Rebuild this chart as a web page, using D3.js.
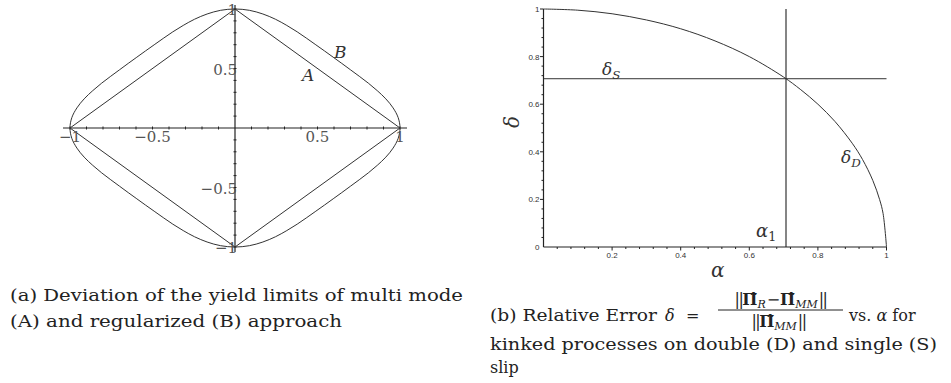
<!DOCTYPE html>
<html>
<head>
<meta charset="utf-8">
<script src="https://cdn.jsdelivr.net/npm/d3@7/dist/d3.min.js"></script>
<style>
  html, body { margin: 0; padding: 0; background: #fff; }
  svg { display: block; }
</style>
</head>
<body>
<svg id="fig" width="951" height="383"></svg>
<script>
// ---- (a) yield limits: multi mode (A) and regularized (B), first quadrant ----
const limitA = [[1, 0], [0, 1]];
const limitB = [
  [1.000, 0.000], [0.989, 0.087], [0.958, 0.169], [0.914, 0.245], [0.862, 0.314],
  [0.808, 0.377], [0.753, 0.435], [0.699, 0.490], [0.647, 0.543], [0.595, 0.595],
  [0.543, 0.647], [0.490, 0.699], [0.435, 0.753], [0.377, 0.808], [0.314, 0.862],
  [0.245, 0.914], [0.169, 0.958], [0.087, 0.989], [0.000, 1.000]
];
const ticksA = [-1, -0.5, 0.5, 1];
const tickLabelsA = ["\u22121", "\u22120.5", "0.5", "1"];

// ---- (b) relative error vs alpha ----
const alphaD = [0, 0.1, 0.2, 0.3, 0.4, 0.5, 0.6, 0.7, 0.75, 0.8, 0.85, 0.9, 0.93, 0.96, 0.98, 0.99, 1];
const deltaD = [1, 0.995, 0.98, 0.954, 0.917, 0.866, 0.8, 0.714, 0.661, 0.6, 0.527, 0.436, 0.368, 0.28, 0.199, 0.141, 0];
const deltaS = 0.707;
const alpha1 = 0.707;
const ticksB = [0.2, 0.4, 0.6, 0.8, 1];
const tickLabelsB = ["0.2", "0.4", "0.6", "0.8", "1"];

const SERIF = "'DejaVu Serif', 'Liberation Serif', serif";
const SANS = "'Liberation Sans', Arial, sans-serif";
const svg = d3.select("#fig");
const ink = "#333";

// ================= panel (a) =================
const xa = d3.scaleLinear().domain([-1, 1]).range([70, 400]);
const ya = d3.scaleLinear().domain([-1, 1]).range([247, 9]);
const ga = svg.append("g");

// full closed outline from first-quadrant points, mirrored about both axes
function closedOutline(q) {
  const q2 = q.slice().reverse().map(([x, y]) => [-x, y]);
  const q3 = q.map(([x, y]) => [-x, -y]);
  const q4 = q.slice().reverse().map(([x, y]) => [x, -y]);
  return q.concat(q2.slice(1), q3.slice(1), q4.slice(1, -1));
}

// axes with 0.1 minor ticks
const minorA = d3.range(-10, 11).filter(i => i !== 0).map(i => i / 10);
ga.append("line").attr("x1", 63).attr("x2", 407).attr("y1", ya(0)).attr("y2", ya(0))
  .attr("stroke", "#222").attr("stroke-width", 1.2);
ga.append("line").attr("x1", xa(0)).attr("x2", xa(0)).attr("y1", 5).attr("y2", 252)
  .attr("stroke", "#222").attr("stroke-width", 1.2);
ga.selectAll(".tx").data(minorA).join("line")
  .attr("x1", d => xa(d)).attr("x2", d => xa(d))
  .attr("y1", ya(0) - 1.5).attr("y2", ya(0) + 1.5)
  .attr("stroke", "#222").attr("stroke-width", 1);
ga.selectAll(".ty").data(minorA).join("line")
  .attr("x1", xa(0) - 1.5).attr("x2", xa(0) + 1.5)
  .attr("y1", d => ya(d)).attr("y2", d => ya(d))
  .attr("stroke", "#222").attr("stroke-width", 1);

ga.append("path")
  .attr("d", d3.line().x(d => xa(d[0])).y(d => ya(d[1])).curve(d3.curveLinearClosed)(closedOutline(limitA)))
  .attr("fill", "none").attr("stroke", ink).attr("stroke-width", 1);
ga.append("path")
  .attr("d", d3.line().x(d => xa(d[0])).y(d => ya(d[1])).curve(d3.curveCatmullRomClosed.alpha(0.5))(closedOutline(limitB)))
  .attr("fill", "none").attr("stroke", ink).attr("stroke-width", 1);

// tick labels
ga.selectAll(".lx").data(ticksA).join("text")
  .attr("font-family", SERIF)
  .attr("x", d => xa(d)).attr("y", ya(0) + 14)
  .attr("text-anchor", "middle").attr("font-size", 15).attr("fill", "#555")
  .text((d, i) => tickLabelsA[i]);
ga.selectAll(".ly").data(ticksA).join("text")
  .attr("font-family", SERIF)
  .attr("x", xa(0) + 2).attr("y", d => ya(d) + 6)
  .attr("text-anchor", "end").attr("font-size", 15).attr("fill", "#555")
  .text((d, i) => tickLabelsA[i]);

ga.append("text").attr("font-family", SERIF).attr("x", 334).attr("y", 58)
  .attr("font-size", 17).attr("font-style", "italic").attr("fill", ink).text("B");
ga.append("text").attr("font-family", SERIF).attr("x", 302).attr("y", 81)
  .attr("font-size", 17).attr("font-style", "italic").attr("fill", ink).text("A");

// ================= panel (b) =================
const xb = d3.scaleLinear().domain([0, 1]).range([543.5, 886.5]);
const yb = d3.scaleLinear().domain([0, 1]).range([247, 9]);
const gb = svg.append("g");

gb.append("line").attr("x1", xb(0)).attr("x2", xb(1)).attr("y1", yb(0)).attr("y2", yb(0))
  .attr("stroke", "#222").attr("stroke-width", 1.2);
gb.append("line").attr("x1", xb(0)).attr("x2", xb(0)).attr("y1", yb(0)).attr("y2", yb(1))
  .attr("stroke", "#222").attr("stroke-width", 1.2);
const minorB = d3.range(1, 26).map(i => i * 0.04);
gb.selectAll(".tx").data(minorB).join("line")
  .attr("x1", d => xb(d)).attr("x2", d => xb(d))
  .attr("y1", yb(0)).attr("y2", (d, i) => yb(0) + ((i + 1) % 5 === 0 ? 3.5 : 2))
  .attr("stroke", "#222").attr("stroke-width", 1);
gb.selectAll(".ty").data(minorB).join("line")
  .attr("y1", d => yb(d)).attr("y2", d => yb(d))
  .attr("x1", xb(0)).attr("x2", (d, i) => xb(0) - ((i + 1) % 5 === 0 ? 3.5 : 2))
  .attr("stroke", "#222").attr("stroke-width", 1);

gb.selectAll(".lx").data(ticksB).join("text").attr("font-family", SANS)
  .attr("x", d => xb(d)).attr("y", yb(0) + 11)
  .attr("text-anchor", "middle").attr("font-size", 8).attr("fill", "#333")
  .text((d, i) => tickLabelsB[i]);
gb.selectAll(".ly").data([0].concat(ticksB)).join("text").attr("font-family", SANS)
  .attr("x", xb(0) - 4).attr("y", d => yb(d) + 3)
  .attr("text-anchor", "end").attr("font-size", 8).attr("fill", "#333")
  .text((d, i) => i === 0 ? "0" : tickLabelsB[i - 1]);

// single slip level and alpha_1 marker
gb.append("line").attr("x1", xb(0)).attr("x2", xb(1)).attr("y1", yb(deltaS)).attr("y2", yb(deltaS))
  .attr("stroke", ink).attr("stroke-width", 1);
gb.append("line").attr("x1", xb(alpha1)).attr("x2", xb(alpha1)).attr("y1", yb(0)).attr("y2", yb(1))
  .attr("stroke", "#222").attr("stroke-width", 1.1);

// double slip curve
gb.append("path")
  .attr("d", d3.line().x(d => xb(d[0])).y(d => yb(d[1])).curve(d3.curveCatmullRom.alpha(0.5))(
    alphaD.map((a, i) => [a, deltaD[i]])))
  .attr("fill", "none").attr("stroke", ink).attr("stroke-width", 1);

// curve labels with subscripts
const lab = (g, x, y, main, sub, fs) => {
  const t = g.append("text").attr("font-family", SERIF).attr("x", x).attr("y", y)
    .attr("font-size", fs).attr("fill", ink);
  t.append("tspan").attr("font-style", "italic").text(main);
  t.append("tspan").attr("font-style", sub === "1" ? "normal" : "italic")
    .attr("font-size", fs * 0.7).attr("dy", fs * 0.22).text(sub);
  return t;
};
lab(gb, 602, 75, "\u03b4", "S", 17);
lab(gb, 756, 237, "\u03b1", "1", 18);
lab(gb, 841, 163, "\u03b4", "D", 17);

gb.append("text").attr("font-family", SERIF).attr("x", 711).attr("y", 277)
  .attr("font-size", 20).attr("font-style", "italic").attr("fill", ink).text("\u03b1");
gb.append("text").attr("font-family", SERIF)
  .attr("transform", "translate(519,122) rotate(-90)")
  .attr("text-anchor", "middle")
  .attr("font-size", 20).attr("font-style", "italic").attr("fill", ink).text("\u03b4");

// ================= captions =================
const CAP = 16;
const cap = (x, y, str, w) => {
  const t = svg.append("text").attr("font-family", SERIF).attr("x", x).attr("y", y)
    .attr("font-size", CAP).attr("fill", "#222").text(str);
  if (w) t.attr("textLength", w).attr("lengthAdjust", "spacingAndGlyphs");
  return t;
};
cap(10, 301, "(a) Deviation of the yield limits of multi mode", 453);
cap(10, 327, "(A) and regularized (B) approach", 332);

cap(490, 321, "(b) Relative Error", 167);
svg.append("text").attr("font-family", SERIF).attr("x", 665).attr("y", 321)
  .attr("font-size", CAP).attr("font-style", "italic").attr("fill", "#222").text("\u03b4");
svg.append("text").attr("font-family", SERIF).attr("x", 686).attr("y", 321)
  .attr("font-size", CAP).attr("fill", "#222").text("=");

// fraction ||Pi_R - Pi_MM|| / ||Pi_MM||
const FR = 16;
const norm = "||";
const addNorm = (t) => t.append("tspan").attr("letter-spacing", -1.5).text(norm);
const hatPi = (t) => t.append("tspan").attr("font-weight", "bold").text("\u03a0\u0302");
const fracX = 780.5;
const num = svg.append("text").attr("font-family", SERIF).attr("x", fracX).attr("y", 305)
  .attr("text-anchor", "middle").attr("font-size", FR).attr("fill", "#222");
addNorm(num);
hatPi(num);
num.append("tspan").attr("font-style", "italic").attr("font-size", 11).attr("dy", 3).text("R");
num.append("tspan").attr("dy", -3).attr("dx", 1).text("\u2212");
hatPi(num);
num.append("tspan").attr("font-style", "italic").attr("font-size", 11).attr("dy", 3).text("MM");
num.append("tspan").attr("dy", -3).attr("dx", 1).call(t => t.attr("letter-spacing", -1.5).text(norm));
svg.append("line").attr("x1", 718).attr("x2", 843).attr("y1", 310).attr("y2", 310)
  .attr("stroke", "#222").attr("stroke-width", 1);
const den = svg.append("text").attr("font-family", SERIF).attr("x", fracX - 2).attr("y", 327)
  .attr("text-anchor", "middle").attr("font-size", FR).attr("fill", "#222");
addNorm(den);
hatPi(den);
den.append("tspan").attr("font-style", "italic").attr("font-size", 11).attr("dy", 3).text("MM");
den.append("tspan").attr("dy", -3).attr("dx", 1).call(t => t.attr("letter-spacing", -1.5).text(norm));

svg.append("text").attr("font-family", SERIF).attr("x", 849).attr("y", 321)
  .attr("font-size", CAP).attr("fill", "#222")
  .call(t => {
    t.append("tspan").text("vs. ");
    t.append("tspan").attr("font-style", "italic").text("\u03b1");
    t.append("tspan").text(" for");
  });
cap(490, 350, "kinked processes on double (D) and single (S)", 447);
cap(490, 373, "slip");
</script>
</body>
</html>
